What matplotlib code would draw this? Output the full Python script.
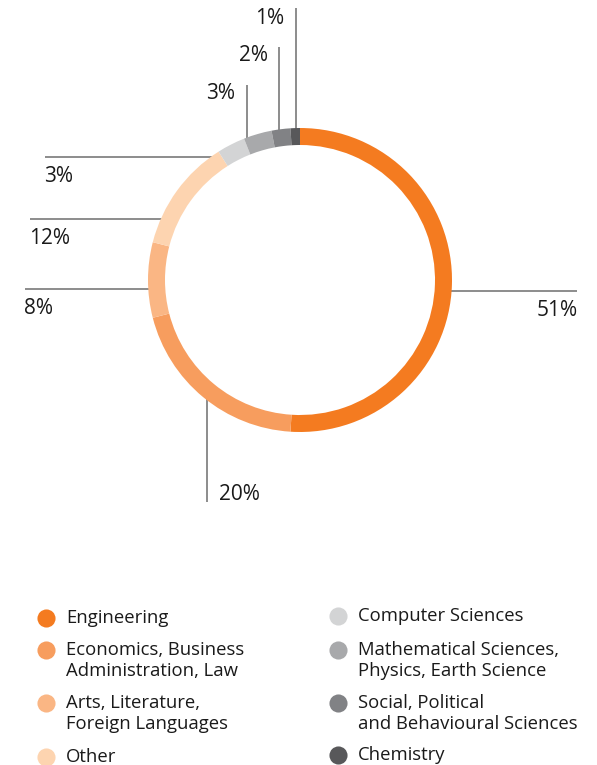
import matplotlib
matplotlib.use("Agg")
matplotlib.rcParams["font.family"] = ["Open Sans", "DejaVu Sans"]
import matplotlib.pyplot as plt
import numpy as np

# ── Data ──
categories = [
    "Engineering",
    "Economics, Business\nAdministration, Law",
    "Arts, Literature,\nForeign Languages",
    "Other",
    "Computer Sciences",
    "Mathematical Sciences,\nPhysics, Earth Science",
    "Social, Political\nand Behavioural Sciences",
    "Chemistry",
]
shares = [51, 20, 8, 12, 3, 3, 2, 1]
colors = ["#F47B20", "#F79D5E", "#FAB684", "#FDD4B0",
          "#D3D4D5", "#A8A9AB", "#818285", "#58585A"]

W, H = 597, 765
CX, CY = 300, 280          # ring centre (pixel coords, y down)
R_OUT, RING_W = 152, 17
LINE_C = "#6d6d6d"
TXT_C = "#1a1a1a"


def py(y):
    return H - y


fig = plt.figure(figsize=(W / 100, H / 100), dpi=100)
ax = fig.add_axes([0, 0, 1, 1])

ax.pie(shares, colors=colors, startangle=90, counterclock=False,
       radius=R_OUT, center=(CX, py(CY)),
       wedgeprops=dict(width=RING_W, linewidth=0))
ax.set_xlim(0, W)
ax.set_ylim(0, H)
ax.set_aspect("equal")
ax.axis("off")


def ring_y(x, upper=True):
    dy = np.sqrt(R_OUT ** 2 - (x - CX) ** 2)
    return CY - dy if upper else CY + dy


def ring_x(y, left=True):
    dx = np.sqrt(R_OUT ** 2 - (y - CY) ** 2)
    return CX - dx if left else CX + dx


# leader lines: (index, kind, line pos, far end, label x, label y, ha)
leaders = [
    (7, "v_up", 296, 8, 284, 18, "right"),
    (6, "v_up", 279, 47, 268, 55, "right"),
    (5, "v_up", 247, 85, 235, 93, "right"),
    (4, "h_left", 157, 45, 44, 176, "left"),
    (3, "h_left", 219, 30, 29, 238, "left"),
    (2, "h_left", 289, 25, 24, 308, "left"),
    (1, "v_down", 207, 502, 219, 494, "left"),
    (0, "h_right", 291, 577, 578, 310, "right"),
]

for i, kind, pos, end, lx, ly, ha in leaders:
    if kind == "v_up":
        xs, ys = [pos, pos], [ring_y(pos, True) + 2, end]
    elif kind == "v_down":
        xs, ys = [pos, pos], [ring_y(pos, False) - 2, end]
    elif kind == "h_left":
        xs, ys = [ring_x(pos, True) + 2, end], [pos, pos]
    else:
        xs, ys = [ring_x(pos, False) - 2, end], [pos, pos]
    ax.plot(xs, [py(v) for v in ys], color=LINE_C, lw=1.1, zorder=0,
            solid_capstyle="butt")
    ax.text(lx, py(ly), f"{shares[i]}%", ha=ha, va="center",
            fontsize=15, color=TXT_C)

# ── Legend ──
legend_cols = [(46, 66, [618, 650, 703, 757]),
               (338, 358, [616, 650, 703, 755])]
LINE_GAP = 21
for col, (mx, tx, rows) in enumerate(legend_cols):
    for row, y in enumerate(rows):
        i = col * 4 + row
        ax.scatter([mx], [py(y)], s=170, color=colors[i], linewidths=0)
        for k, line in enumerate(categories[i].split("\n")):
            ax.text(tx, py(y + k * LINE_GAP), line, ha="left", va="center",
                    fontsize=13.3, color=TXT_C)

fig.savefig("out.png", dpi=100)
